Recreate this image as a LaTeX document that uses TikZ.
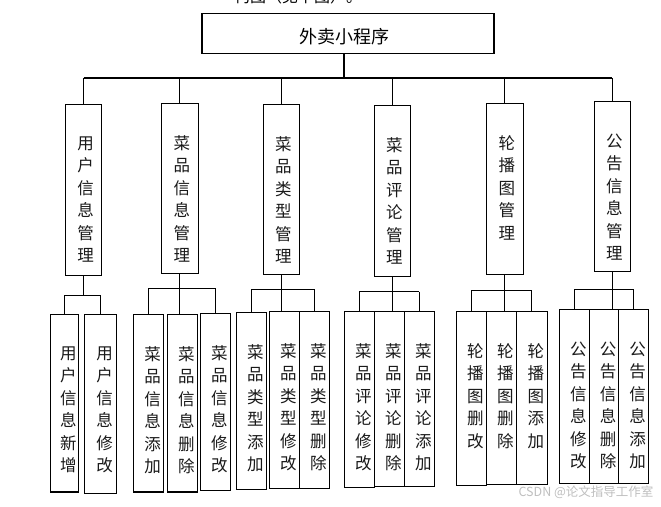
\documentclass[tikz,border=0pt]{standalone}
\usepackage{fontspec}
\newfontfamily\cjk{Noto Sans CJK SC}
\tikzset{
  box/.style={draw=black,line width=1.1pt,rectangle,inner sep=0pt,outer sep=0pt,fill=white},
  lbl/.style={font=\cjk\fontsize{16.5}{22.5}\selectfont,align=center,inner sep=0pt,text=black!90},
  conn/.style={draw=black,line width=1.1pt}
}
\newcommand\mkbox[7]{%
  \pgfmathsetmacro\bcx{(#2+#4)/2}\pgfmathsetmacro\bcy{(#3+#5)/2}%
  \pgfmathsetmacro\bw{#4-#2}\pgfmathsetmacro\bh{#5-#3}%
  \node[box,minimum width=\bw pt,minimum height=\bh pt] (#1) at (\bcx,\bcy) {};
  \node[lbl,anchor=north] (#1t) at ([xshift=#7pt,yshift=-32pt]#1.north) {#6};
}
\begin{document}
\begin{tikzpicture}[x=1pt,y=-1pt]
\useasboundingbox (0,0) rectangle (661,506);
\fill[white] (0,0) rectangle (661,506);
% cut-off caption at the top
\node[font=\cjk\fontsize{16}{20}\selectfont,anchor=base,inner sep=0pt] (cap) at (298,2) {构图（见下图）。};
% root
\node[box,minimum width=292pt,minimum height=40pt] (root) at (348,33.3) {};
\node[font=\cjk\fontsize{18}{22}\selectfont,inner sep=0pt] (roott) at (344,37) {外卖小程序};
% level 2
\mkbox{b1}{65.7}{104.3}{101.3}{275.3}{用\\户\\信\\息\\管\\理}{2}
\mkbox{b2}{161.3}{103.3}{198.3}{273.3}{菜\\品\\信\\息\\管\\理}{2}
\mkbox{b3}{263.3}{104.3}{299.3}{274.3}{菜\\品\\类\\型\\管\\理}{2}
\mkbox{b4}{374.3}{105.3}{410.3}{276.7}{菜\\品\\评\\论\\管\\理}{2}
\mkbox{b5}{486.3}{103.3}{523.3}{274.3}{轮\\播\\图\\管\\理}{2}
\mkbox{b6}{594.3}{101.3}{630.3}{271.3}{公\\告\\信\\息\\管\\理}{2}
% level 3
\mkbox{c11}{50.3}{314.3}{78.3}{492}{用\\户\\信\\息\\新\\增}{4}
\mkbox{c12}{84.7}{314.3}{116.3}{493.3}{用\\户\\信\\息\\修\\改}{4}
\mkbox{c21}{133.3}{314.3}{163.7}{492}{菜\\品\\信\\息\\添\\加}{4}
\mkbox{c22}{167.3}{314.3}{197.3}{492}{菜\\品\\信\\息\\删\\除}{4}
\mkbox{c23}{200.3}{313.3}{230.3}{490.3}{菜\\品\\信\\息\\修\\改}{4}
\mkbox{c31}{236.3}{312.3}{266.3}{489.3}{菜\\品\\类\\型\\添\\加}{4}
\mkbox{c32}{269.3}{311.3}{299.3}{488.3}{菜\\品\\类\\型\\修\\改}{4}
\mkbox{c33}{299.3}{311.3}{329.3}{488.3}{菜\\品\\类\\型\\删\\除}{4}
\mkbox{c41}{344.3}{311.3}{374.3}{487.3}{菜\\品\\评\\论\\修\\改}{4}
\mkbox{c42}{374.3}{311.3}{404.3}{486.3}{菜\\品\\评\\论\\删\\除}{4}
\mkbox{c43}{404.3}{311.3}{434.3}{486.3}{菜\\品\\评\\论\\添\\加}{4}
\mkbox{c51}{456.3}{311.3}{486.3}{485.3}{轮\\播\\图\\删\\改}{4}
\mkbox{c52}{486.3}{311.3}{516.3}{484.3}{轮\\播\\图\\删\\除}{4}
\mkbox{c53}{516.3}{311.3}{547.3}{484.3}{轮\\播\\图\\添\\加}{4}
\mkbox{c61}{559.3}{309.3}{589.3}{483.3}{公\\告\\信\\息\\修\\改}{4}
\mkbox{c62}{589.3}{309.3}{618.7}{483.3}{公\\告\\信\\息\\删\\除}{4}
\mkbox{c63}{618.7}{309.3}{648.3}{483.3}{公\\告\\信\\息\\添\\加}{4}
% level 1 connectors
\coordinate (bar) at (0,78);
\draw[conn] ([xshift=-4pt]root.south) -- ([xshift=-4pt]root.south |- bar);
\draw[conn] (b1.north |- bar) -- (b6.north |- bar);
\foreach \b in {b1,b2,b3,b4,b5,b6} \draw[conn] (\b.north |- bar) -- (\b.north);
% group 1
\coordinate (g1) at (0,295.3);
\draw[conn] (b1.south) -- (b1.south |- g1);
\draw[conn] (c11.north |- g1) -- (c12.north |- g1);
\draw[conn] (c11.north |- g1) -- (c11.north);
\draw[conn] (c12.north |- g1) -- (c12.north);
% group 2
\coordinate (g2) at (0,288.3);
\draw[conn] (b2.south) -- (b2.south |- c22.north);
\draw[conn] (c21.north |- g2) -- (c23.north |- g2);
\draw[conn] (c21.north |- g2) -- (c21.north);
\draw[conn] (c23.north |- g2) -- (c23.north);
% group 3
\coordinate (g3) at (0,289.3);
\draw[conn] (b3.south) -- (b3.south |- c32.north);
\draw[conn] (c31.north |- g3) -- (c33.north |- g3);
\draw[conn] (c31.north |- g3) -- (c31.north);
\draw[conn] (c33.north |- g3) -- (c33.north);
% group 4
\coordinate (g4) at (0,291.7);
\draw[conn] (b4.south) -- (b4.south |- c42.north);
\draw[conn] (c41.north |- g4) -- (c43.north |- g4);
\draw[conn] (c41.north |- g4) -- (c41.north);
\draw[conn] (c43.north |- g4) -- (c43.north);
% group 5
\coordinate (g5) at (0,290.7);
\draw[conn] (b5.south) -- (b5.south |- c52.north);
\draw[conn] (c51.north |- g5) -- (c53.north |- g5);
\draw[conn] (c51.north |- g5) -- (c51.north);
\draw[conn] (c53.north |- g5) -- (c53.north);
% group 6
\coordinate (g6) at (0,289.7);
\draw[conn] (b6.south) -- (b6.south |- c62.north);
\draw[conn] (c61.north |- g6) -- (c63.north |- g6);
\draw[conn] (c61.north |- g6) -- (c61.north);
\draw[conn] (c63.north |- g6) -- (c63.north);
% watermark
\node[font=\cjk\fontsize{12.5}{14}\selectfont,text=black!25,inner sep=0pt] (wm) at (586,492.5) {CSDN @论文指导工作室};
\end{tikzpicture}
\end{document}
